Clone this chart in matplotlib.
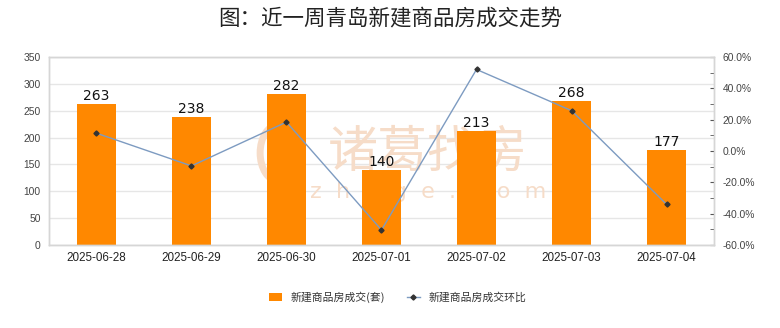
import matplotlib
matplotlib.use("Agg")
import matplotlib.pyplot as plt
from matplotlib.ticker import MultipleLocator, FuncFormatter
from matplotlib.patches import Ellipse

plt.rcParams["font.family"] = ["Noto Sans CJK SC", "DejaVu Sans"]

dates = ["2025-06-28", "2025-06-29", "2025-06-30", "2025-07-01",
         "2025-07-02", "2025-07-03", "2025-07-04"]
deals = [263, 238, 282, 140, 213, 268, 177]
mom_pct = [11.4, -9.5, 18.5, -50.4, 52.1, 25.8, -34.0]

title = "图：近一周青岛新建商品房成交走势"
bar_name = "新建商品房成交(套)"
line_name = "新建商品房成交环比"

BAR = "#ff8800"
LINE = "#7d9bc1"
GRID = "#e6e6e6"
LATIN = ["Liberation Sans", "DejaVu Sans"]

fig = plt.figure(figsize=(7.8, 3.28), dpi=100)
ax = fig.add_axes([0.0628, 0.253, 0.8526, 0.573])
ax2 = ax.twinx()

x = range(len(dates))
bars = ax.bar(x, deals, width=0.41, color=BAR, zorder=2, label=bar_name)
for xi, v in zip(x, deals):
    ax.text(xi, v + 2, str(v), ha="center", va="bottom", fontsize=10,
            family="DejaVu Sans", color="#111111", zorder=5)

ax.set_xlim(-0.5, len(dates) - 0.5)
ax.set_ylim(0, 350)
ax.yaxis.set_major_locator(MultipleLocator(50))
ax.set_xticks(list(x))
ax.set_xticklabels(dates, fontsize=8.4, family=LATIN, color="#222222")
for lab in ax.get_yticklabels():
    lab.set_family(LATIN)
ax.tick_params(axis="y", length=0, labelsize=7.4, labelcolor="#444444", pad=6)
ax.tick_params(axis="x", length=0, pad=5)
ax.grid(axis="y", color=GRID, linewidth=1, zorder=0)
ax.set_axisbelow(True)

ln, = ax2.plot(x, mom_pct, color=LINE, linewidth=1, marker="D", markersize=2.6,
               markerfacecolor="#333333", markeredgecolor="#333333",
               zorder=4, label=line_name)
ax2.set_ylim(-60, 60)
ax2.yaxis.set_major_locator(MultipleLocator(20))
ax2.yaxis.set_minor_locator(MultipleLocator(10))
ax2.yaxis.set_major_formatter(FuncFormatter(lambda v, p: f"{v:.1f}%"))
for lab in ax2.get_yticklabels():
    lab.set_family(LATIN)
ax2.tick_params(axis="y", which="both", direction="in", length=3,
                color="#555555", labelsize=7.4, labelcolor="#444444", pad=6)

for a in (ax, ax2):
    for s in a.spines.values():
        s.set_color("#d6d6d6")
        s.set_linewidth(1)

# faint watermark
wm = "#f6dcc8"
ax.text(0.57, 0.49, "诸葛找房", transform=ax.transAxes, ha="center",
        va="center", fontsize=36, color=wm, zorder=1)
ax.text(0.57, 0.28, "z  h  u  g  e  .  c  o  m", transform=ax.transAxes,
        ha="center", va="center", fontsize=16, color=wm, family="DejaVu Sans",
        zorder=1)
ax.add_patch(Ellipse((0.345, 0.49), 0.055, 0.3, transform=ax.transAxes,
                     fill=False, edgecolor=wm, linewidth=5, zorder=1))

fig.text(0.5, 0.945, title, ha="center", va="center", fontsize=15.5,
         color="#222222")

fig.legend([bars, ln], [bar_name, line_name], loc="center",
           bbox_to_anchor=(0.51, 0.094), ncol=2, frameon=False,
           fontsize=7.8, handlelength=1.2, handletextpad=0.8, columnspacing=2.0,
           labelcolor="#333333")

fig.savefig("out.png", dpi=100, facecolor="white")
